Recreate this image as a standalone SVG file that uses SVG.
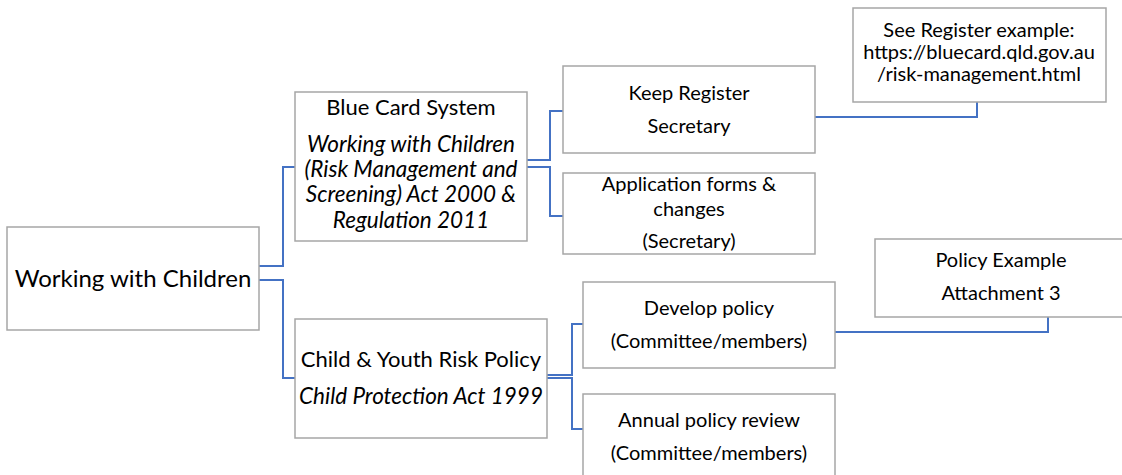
<svg xmlns="http://www.w3.org/2000/svg" width="1122" height="475" viewBox="0 0 1122 475">
<style>
.box{fill:#ffffff;stroke:#a6a6a6;stroke-width:1.5}
.t{font-family:Lato,"Liberation Sans",sans-serif;fill:#000;text-anchor:middle}
.i{font-style:italic}
.c{fill:none;stroke:#4472c4;stroke-width:2}
</style>
<rect width="1122" height="475" fill="#ffffff"/>
<g id="connectors">
<polyline class="c" points="259,266 283,266 283,167 295,167"/>
<polyline class="c" points="259,280 283,280 283,378 295,378"/>
<polyline class="c" points="527,160 550,160 550,111 563,111"/>
<polyline class="c" points="527,167 550,167 550,216 563,216"/>
<polyline class="c" points="815,117 977,117 977,102"/>
<polyline class="c" points="547,375 572,375 572,324 583,324"/>
<polyline class="c" points="547,378 572,378 572,429 583,429"/>
<polyline class="c" points="835,332 1048,332 1048,317"/>
</g>
<g id="root">
<rect class="box" x="7" y="227" width="252" height="103"/>
<text class="t" x="133" y="287" font-size="24">Working with Children</text>
</g>
<g id="bluecard">
<rect class="box" x="295" y="92" width="232" height="149"/>
<text class="t" x="411" y="115" font-size="22">Blue Card System</text>
<text class="t i" x="411" y="152" font-size="22.5">Working with Children</text>
<text class="t i" x="411" y="177" font-size="22.5">(Risk Management and</text>
<text class="t i" x="411" y="202" font-size="22.5">Screening) Act 2000 &amp;</text>
<text class="t i" x="411" y="228" font-size="22.5">Regulation 2011</text>
</g>
<g id="keepregister">
<rect class="box" x="563" y="66" width="252" height="87"/>
<text class="t" x="689" y="100" font-size="20">Keep Register</text>
<text class="t" x="689" y="133" font-size="20">Secretary</text>
</g>
<g id="application">
<rect class="box" x="563" y="173" width="252" height="81"/>
<text class="t" x="689" y="191" font-size="20">Application forms &amp;</text>
<text class="t" x="689" y="216" font-size="20">changes</text>
<text class="t" x="689" y="248" font-size="20">(Secretary)</text>
</g>
<g id="registerexample">
<rect class="box" x="853" y="8" width="253" height="94"/>
<text class="t" x="979" y="37" font-size="20">See Register example:</text>
<text class="t" x="979" y="59" font-size="20">https://bluecard.qld.gov.au</text>
<text class="t" x="979" y="81" font-size="20">/risk-management.html</text>
</g>
<g id="childpolicy">
<rect class="box" x="295" y="319" width="252" height="119"/>
<text class="t" x="421" y="367" font-size="22">Child &amp; Youth Risk Policy</text>
<text class="t i" x="421" y="404" font-size="22.5">Child Protection Act 1999</text>
</g>
<g id="develop">
<rect class="box" x="583" y="282" width="252" height="86"/>
<text class="t" x="709" y="315" font-size="20">Develop policy</text>
<text class="t" x="709" y="348" font-size="20">(Committee/members)</text>
</g>
<g id="annual">
<rect class="box" x="583" y="394" width="252" height="100"/>
<text class="t" x="709" y="427" font-size="20">Annual policy review</text>
<text class="t" x="709" y="460" font-size="20">(Committee/members)</text>
</g>
<g id="policyexample">
<rect class="box" x="875" y="239" width="252" height="78"/>
<text class="t" x="1001" y="267" font-size="20">Policy Example</text>
<text class="t" x="1001" y="300" font-size="20">Attachment 3</text>
</g>
</svg>
